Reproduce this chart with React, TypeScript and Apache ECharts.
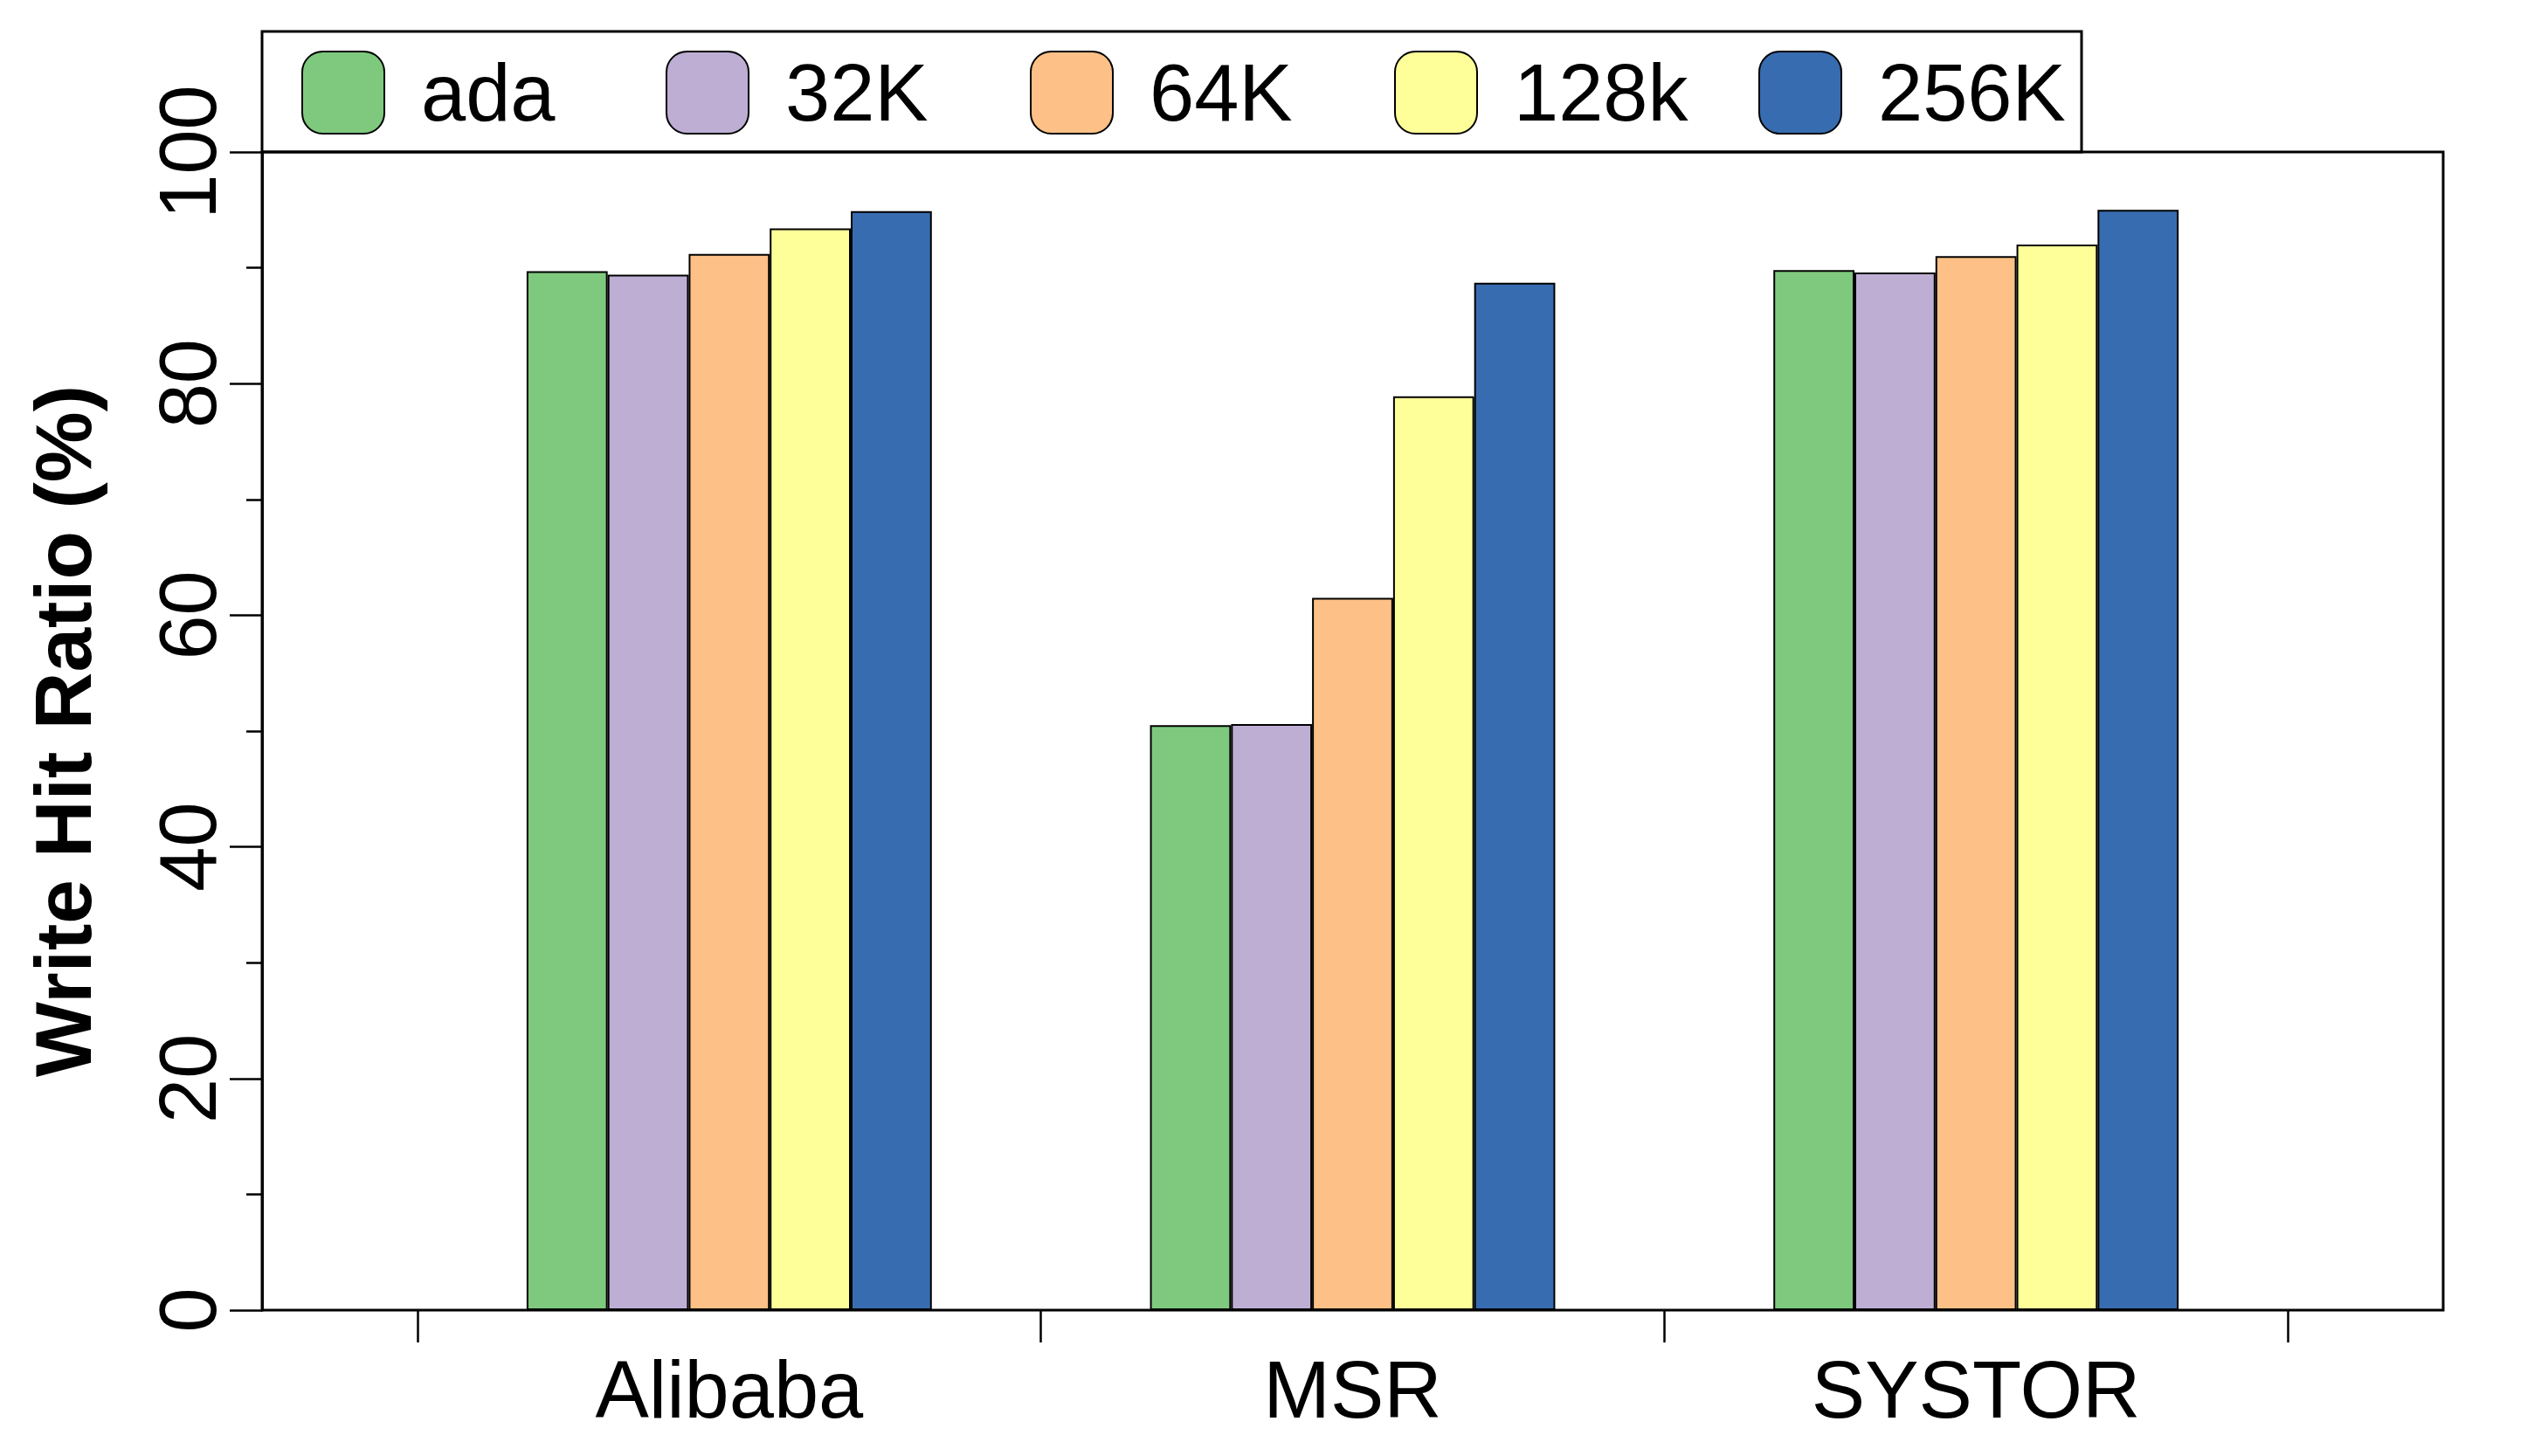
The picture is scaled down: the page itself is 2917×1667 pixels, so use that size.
import React, { useEffect, useRef } from "react";
import * as echarts from "echarts";

const categories = ["Alibaba", "MSR", "SYSTOR"];
const seriesNames = ["ada", "32K", "64K", "128k", "256K"];
const adaValues = [89.7, 50.5, 89.8];
const k32Values = [89.4, 50.6, 89.6];
const k64Values = [91.2, 61.5, 91.0];
const k128Values = [93.4, 78.9, 92.0];
const k256Values = [94.9, 88.7, 95.0];
const seriesColors = ["#7FC97F", "#BEAED4", "#FDC086", "#FFFF99", "#386CB0"];
const yTickLabels = [0, 20, 40, 60, 80, 100];

const FONT = "Liberation Sans, Arial, Helvetica, sans-serif";

export default function App() {
  const ref = useRef<HTMLDivElement>(null);

  useEffect(() => {
    if (!ref.current) return;
    const chart = echarts.init(ref.current, undefined, { renderer: "svg" });
    const allValues = [adaValues, k32Values, k64Values, k128Values, k256Values];

    const plotLeft = 300;
    const plotTop = 174;
    const plotWidth = 2497;
    const plotHeight = 1326;
    const catLeft = 478;
    const catWidth = 2141;

    const legends = seriesNames.map((name, i) => ({
      data: [name],
      left: 345 + 417 * i,
      top: 58,
      padding: 0,
      itemWidth: 94,
      itemHeight: 94,
      icon: "roundRect",
      itemStyle: { borderColor: "#000", borderWidth: 2 },
      textStyle: {
        fontSize: 92,
        fontFamily: FONT,
        color: "#000",
        padding: [0, 0, 0, 37],
      },
      selectedMode: false,
    }));

    chart.setOption({
      animation: false,
      backgroundColor: "#fff",
      legend: legends,
      graphic: [
        {
          type: "rect",
          shape: { x: 300, y: 36, width: 2083, height: 138 },
          style: { fill: "none", stroke: "#000", lineWidth: 3 },
          z: 10,
        },
      ],
      grid: [
        {
          left: plotLeft,
          top: plotTop,
          width: plotWidth,
          height: plotHeight,
          show: true,
          borderColor: "#000",
          borderWidth: 3,
          backgroundColor: "transparent",
        },
        {
          left: catLeft,
          top: plotTop,
          width: catWidth,
          height: plotHeight,
          show: false,
        },
      ],
      xAxis: [
        { type: "value", gridIndex: 0, show: false, min: 0, max: 1 },
        {
          type: "category",
          gridIndex: 1,
          data: categories,
          boundaryGap: true,
          axisLine: { show: false },
          axisTick: {
            show: true,
            length: 37,
            alignWithLabel: false,
            lineStyle: { color: "#000", width: 2.5 },
          },
          axisLabel: {
            fontSize: 92,
            fontFamily: FONT,
            color: "#000",
            margin: 45,
          },
          splitLine: { show: false },
        },
      ],
      yAxis: [
        {
          type: "value",
          gridIndex: 0,
          min: 0,
          max: 100,
          interval: 20,
          name: "Write Hit Ratio (%)",
          nameLocation: "middle",
          nameRotate: 90,
          nameGap: 182,
          nameTextStyle: {
            fontSize: 91,
            fontWeight: "bold",
            fontFamily: FONT,
            color: "#000",
          },
          axisLine: { show: true, lineStyle: { color: "#000", width: 3 } },
          axisTick: { show: true, length: 37, lineStyle: { color: "#000", width: 2.5 } },
          minorTick: { show: true, splitNumber: 2, length: 18, lineStyle: { color: "#000", width: 2.5 } },
          axisLabel: {
            rotate: 90,
            fontSize: 92,
            fontFamily: FONT,
            color: "#000",
            margin: 39,
            formatter: (v: number) => (yTickLabels.includes(v) ? String(v) : ""),
          },
          splitLine: { show: false },
          minorSplitLine: { show: false },
        },
        { type: "value", gridIndex: 1, min: 0, max: 100, show: false },
      ],
      series: seriesNames.map((name, i) => ({
        name,
        type: "bar",
        xAxisIndex: 1,
        yAxisIndex: 1,
        data: allValues[i],
        barGap: "0%",
        barCategoryGap: "35%",
        itemStyle: { color: seriesColors[i], borderColor: "#000", borderWidth: 2 },
      })),
    });

    return () => chart.dispose();
  }, []);

  return (
    <div
      ref={ref}
      style={{ position: "absolute", left: 0, top: 0, width: 2917, height: 1667 }}
    />
  );
}
